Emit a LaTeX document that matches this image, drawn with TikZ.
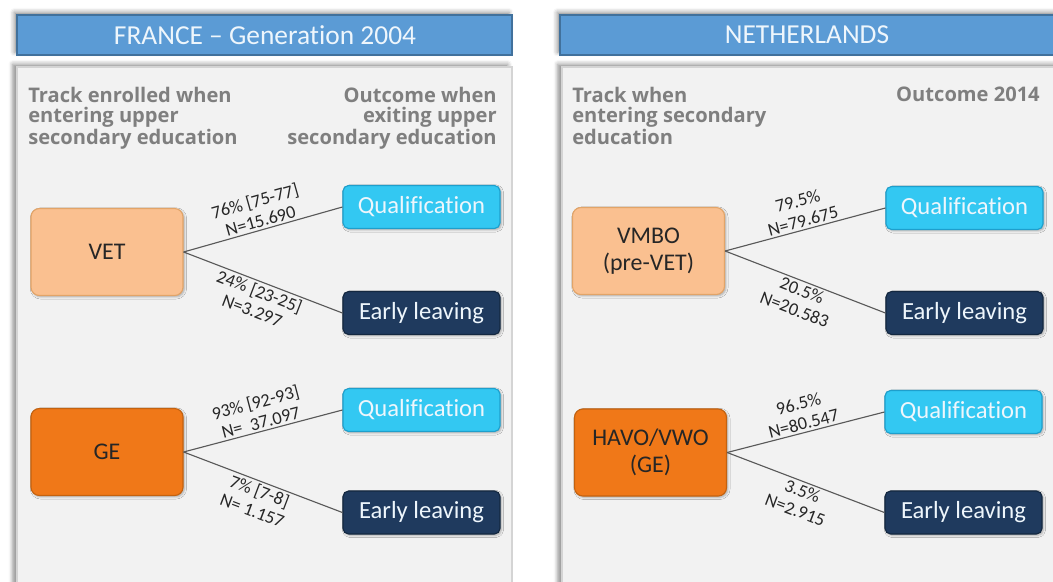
\documentclass[tikz,border=0pt]{standalone}
\usepackage{fontspec}
\setmainfont{Carlito}[Ligatures=NoCommon]
\newfontfamily\headfont{Open Sans}
\usepackage{tikz}
\usetikzlibrary{arrows.meta,positioning,shadows.blur}
\definecolor{BarBlue}{HTML}{5B9BD5}
\definecolor{BarEdge}{HTML}{41719C}
\definecolor{BarText}{HTML}{EEF6FC}
\definecolor{PanelGrey}{HTML}{F2F2F2}
\definecolor{PanelEdge}{HTML}{D4D4D4}
\definecolor{HeadGrey}{HTML}{7F7F7F}
\definecolor{TrackPale}{HTML}{FAC090}
\definecolor{TrackPaleEdge}{HTML}{E2A468}
\definecolor{TrackOrange}{HTML}{F07818}
\definecolor{TrackOrangeEdge}{HTML}{C4620F}
\definecolor{QualCyan}{HTML}{33C8F2}
\definecolor{QualCyanEdge}{HTML}{1E9FCC}
\definecolor{LeaveNavy}{HTML}{1F3A5E}
\definecolor{LeaveNavyEdge}{HTML}{142840}
\definecolor{BoxInk}{HTML}{262626}
\definecolor{LinkGrey}{HTML}{595959}

\tikzset{
  titlebar/.style={draw=BarEdge,fill=BarBlue,line width=0.8pt,
    blur shadow={shadow xshift=-2pt,shadow yshift=2pt,shadow blur radius=3pt,shadow opacity=45}},
  panel/.style={draw=PanelEdge,fill=PanelGrey,line width=0.8pt,
    blur shadow={shadow xshift=-3pt,shadow yshift=2pt,shadow blur radius=3pt,shadow opacity=45}},
  bartext/.style={text=BarText,font=\fontsize{19.5}{22}\selectfont},
  headtext/.style={text=HeadGrey,inner sep=0pt,font=\headfont\bfseries\fontsize{14.3}{14.2}\selectfont},
  track/.style={draw,line width=0.8pt,rounded corners=6pt,minimum width=3.8cm,minimum height=2.175cm,
    align=center,text=BoxInk,font=\fontsize{17}{19.2}\selectfont,
    blur shadow={shadow xshift=1pt,shadow yshift=-1pt,shadow blur radius=1.5pt,shadow opacity=30}},
  outcome/.style={draw,line width=0.8pt,rounded corners=4pt,minimum width=3.925cm,minimum height=1.075cm,
    text=BarText,font=\fontsize{17.5}{19}\selectfont,
    blur shadow={shadow xshift=1pt,shadow yshift=-1pt,shadow blur radius=1.5pt,shadow opacity=30}},
  qual/.style={outcome,draw=QualCyanEdge,fill=QualCyan},
  leave/.style={outcome,draw=LeaveNavyEdge,fill=LeaveNavy},
  link/.style={draw=LinkGrey,line width=0.8pt},
  share/.style={sloped,align=center,text=BoxInk,inner sep=1.5pt,font=\fontsize{13}{14.5}\selectfont}
}

\begin{document}
\begin{tikzpicture}[x=0.025cm,y=-0.025cm,>=Latex]
  \useasboundingbox (0,0) rectangle (1053,581);
  \clip (0,0) rectangle (1053,581);

  % panels and title bars
  \path[panel] (17,67) rectangle (512,600);
  \path[panel] (562,67) rectangle (1070,600);
  \path[titlebar] (17,15) rectangle (512,55);
  \path[titlebar] (560,15) rectangle (1070,55);
  \node[bartext] (frTitle) at (265,35) {FRANCE -- Generation 2004};
  \node[bartext] (nlTitle) at (807,35) {NETHERLANDS};

  % column headers
  \node[headtext,anchor=north west,align=left] (frTrack) at (28,87)
    {Track enrolled when\\entering upper\\secondary education};
  \node[headtext,anchor=north east,align=right] (frOutcome) at (497,87)
    {Outcome when\\exiting upper\\secondary education};
  \node[headtext,anchor=north west,align=left] (nlTrack) at (572,87)
    {Track when\\entering secondary\\education};
  \node[headtext,anchor=north east,align=right] (nlOutcome) at (1040,87) {Outcome 2014};

  % France
  \node[track,draw=TrackPaleEdge,fill=TrackPale] (vet) at (107,252) {VET};
  \node[track,draw=TrackOrangeEdge,fill=TrackOrange] (ge) at (107,452) {GE};
  \node[qual] (frQualA) at (421.5,207) {Qualification};
  \node[leave] (frLeaveA) at (421.5,313) {Early leaving};
  \node[qual] (frQualB) at (421.5,410) {Qualification};
  \node[leave] (frLeaveB) at (421.5,512.5) {Early leaving};

  \draw[link] (vet.east) -- node[share,above] {76\% [75-77]\\N=15.690} (frQualA.west);
  \draw[link] (vet.east) -- node[share,below] {24\% [23-25]\\N=3.297} (frLeaveA.west);
  \draw[link] (ge.east) -- node[share,above] {93\% [92-93]\\N=\ \ 37.097} (frQualB.west);
  \draw[link] (ge.east) -- node[share,below] {7\% [7-8]\\N=\ 1.157} (frLeaveB.west);

  % Netherlands
  \node[track,draw=TrackPaleEdge,fill=TrackPale] (vmbo) at (648.5,251) {VMBO\\(pre-VET)};
  \node[track,draw=TrackOrangeEdge,fill=TrackOrange] (havo) at (650.5,452.5) {HAVO/VWO\\(GE)};
  \node[qual] (nlQualA) at (964.5,208) {Qualification};
  \node[leave] (nlLeaveA) at (964.5,313) {Early leaving};
  \node[qual] (nlQualB) at (963.5,412) {Qualification};
  \node[leave] (nlLeaveB) at (963.5,512.5) {Early leaving};

  \draw[link] (vmbo.east) -- node[share,above] {79.5\%\\N=79.675} (nlQualA.west);
  \draw[link] (vmbo.east) -- node[share,below] {20.5\%\\N=20.583} (nlLeaveA.west);
  \draw[link] (havo.east) -- node[share,above] {96.5\%\\N=80.547} (nlQualB.west);
  \draw[link] (havo.east) -- node[share,below] {3.5\%\\N=2.915} (nlLeaveB.west);
\end{tikzpicture}
\end{document}
